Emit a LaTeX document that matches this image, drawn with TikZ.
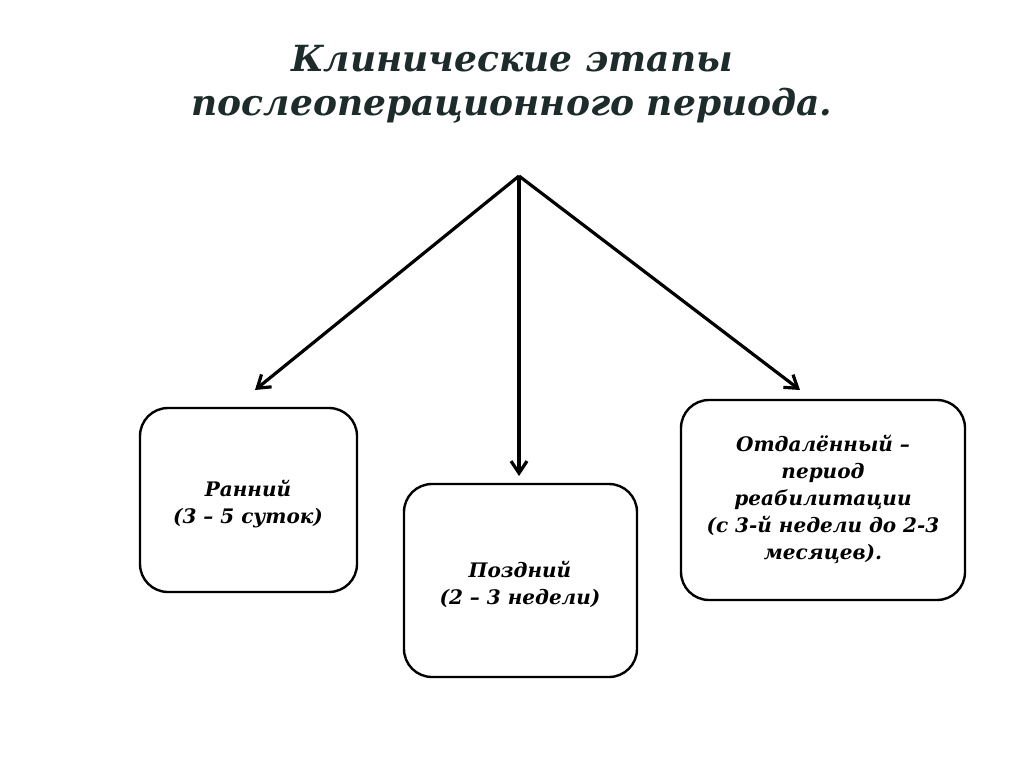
\documentclass[tikz,border=0pt]{standalone}
\usepackage{fontspec}
\setmainfont{DejaVu Serif}
\usetikzlibrary{arrows.meta}
\definecolor{titlec}{HTML}{1E2B2B}
\begin{document}
\begin{tikzpicture}[x=1pt,y=-1pt,
  box/.style={draw=black,line width=2.4pt,rounded corners=28pt},
  lbl/.style={font=\fontsize{20}{27}\selectfont\bfseries\itshape,align=center},
  arr/.style={line width=3.2pt,-{Straight Barb[length=12pt,width=16pt,line width=3.2pt]}}]
\useasboundingbox (0,0) rectangle (1024,767);
\node[font=\fontsize{36}{44}\selectfont\bfseries\itshape,text=titlec,align=center] (title) at (512,84) {Клинические этапы\\послеоперационного периода.};
\coordinate (apex) at (519,176);
\draw[box] (140,408) rectangle (357,592);
\draw[box] (404,484) rectangle (637,677);
\draw[box] (681,400) rectangle (965,600);
\node[lbl] (early) at (248,504) {Ранний\\(3 – 5 суток)};
\node[lbl] (late) at (520,584) {Поздний\\(2 – 3 недели)};
\node[lbl] (remote) at (823,499) {Отдалённый –\\период\\реабилитации\\(с 3-й недели до 2-3\\месяцев).};
\coordinate (e) at (255,390);
\coordinate (m) at (519,476);
\coordinate (r) at (800,390);
\draw[arr] (apex) -- (e);
\draw[arr] (apex) -- (m);
\draw[arr] (apex) -- (r);
\end{tikzpicture}
\end{document}
